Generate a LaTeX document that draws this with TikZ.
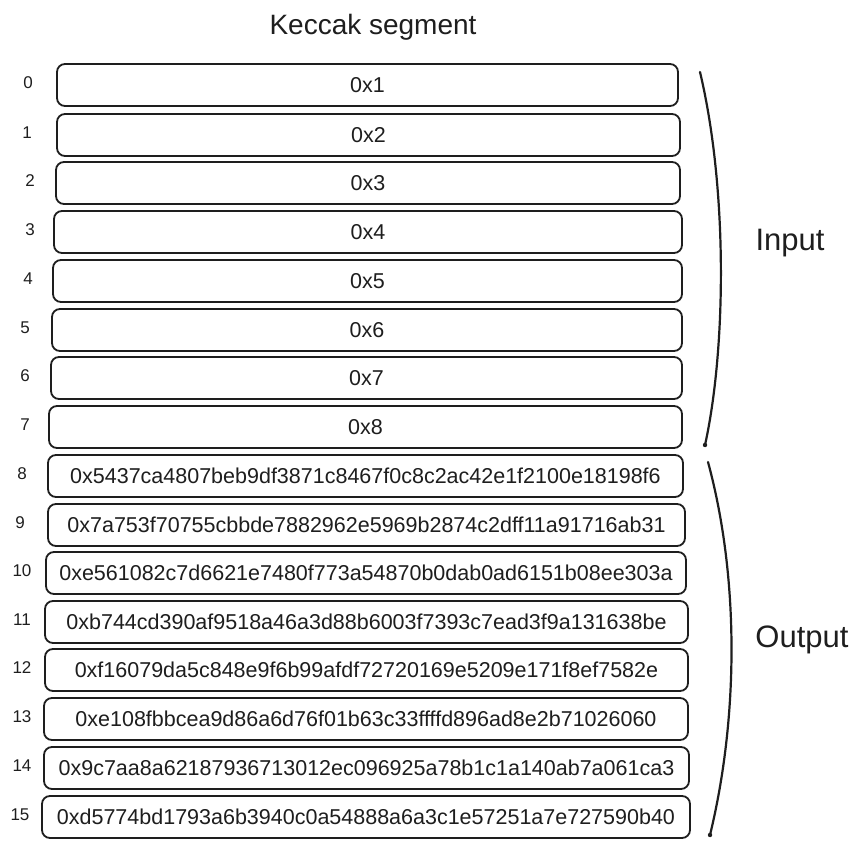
\documentclass[tikz,border=0pt]{standalone}
\usepackage{fontspec}
\setmainfont{Liberation Sans}
\definecolor{ink}{HTML}{1E1E1E}
\begin{document}
\begin{tikzpicture}[x=1pt,y=-1pt,
  cell/.style={draw=ink, line width=1.8pt, rounded corners=8pt, fill=white,
    minimum height=42pt, inner sep=0pt, font=\fontsize{21.5}{24}\selectfont, text=ink},
  idx/.style={font=\fontsize{17}{19}\selectfont, text=ink, inner sep=0pt},
  big/.style={font=\fontsize{28}{32}\selectfont, text=ink, inner sep=0pt},
  side/.style={font=\fontsize{31}{34}\selectfont, text=ink, inner sep=0pt},
  brace/.style={draw=ink, line width=2.2pt, line cap=round}]
\useasboundingbox (0,0) rectangle (861,850);
\node[big] (title) at (373,27) {Keccak segment};
\foreach \n/\L/\R/\y/\ix/\t in {
 0/57/678/85/28/0x1,
 1/57/680/135/27/0x2,
 2/56/680/183/30/0x3,
 3/54/682/232/30/0x4,
 4/53/682/281/28/0x5,
 5/52/682/330/25/0x6,
 6/51/682/378/25/0x7,
 7/49/682/427/25/0x8,
 8/48/683/476/22/0x5437ca4807beb9df3871c8467f0c8c2ac42e1f2100e18198f6,
 9/48/685/525/20/0x7a753f70755cbbde7882962e5969b2874c2dff11a91716ab31,
 10/46/686/573/22/0xe561082c7d6621e7480f773a54870b0dab0ad6151b08ee303a,
 11/45/688/622/22/0xb744cd390af9518a46a3d88b6003f7393c7ead3f9a131638be,
 12/45/688/670/22/0xf16079da5c848e9f6b99afdf72720169e5209e171f8ef7582e,
 13/44/688/719/22/0xe108fbbcea9d86a6d76f01b63c33ffffd896ad8e2b71026060,
 14/44/689/768/22/0x9c7aa8a62187936713012ec096925a78b1c1a140ab7a061ca3,
 15/42/690/817/20/0xd5774bd1793a6b3940c0a54888a6a3c1e57251a7e727590b40}{
  \pgfmathsetmacro\w{\R-\L}
  \pgfmathsetmacro\cx{(\L+\R)/2}
  \node[cell, minimum width=\w pt] (r\n) at (\cx,\y) {\t};
  \node[idx] (i\n) at (\ix,\y-2) {\n};
}
\coordinate (inA) at (700,72);
\coordinate (inB) at (705,445);
\coordinate (outA) at (708,462);
\coordinate (outB) at (710,835);
\draw[brace] (inA) .. controls (728,190) and (726,350) .. (inB);
\fill[ink] (inB) circle (2.2pt);
\draw[brace] (outA) .. controls (740,580) and (738,720) .. (outB);
\fill[ink] (outB) circle (2.2pt);
\node[side] (inlabel) at (790,243) {Input};
\node[side] (outlabel) at (802,640) {Output};
\end{tikzpicture}
\end{document}
